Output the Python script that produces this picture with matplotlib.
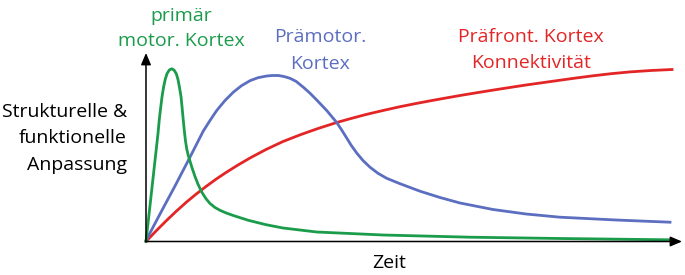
import matplotlib.pyplot as plt

plt.rcParams['font.family'] = ['Open Sans', 'DejaVu Sans']

green_x = [0, 3, 6, 9, 12, 13.3, 14.7, 16, 17.5, 19.2, 21, 23.3, 25.7, 28, 30.3, 32, 33.5,
           35, 36.2, 37.3, 38.4, 39.5, 40.7, 42, 43.3, 46, 49, 52, 55.7, 60, 64, 69, 74, 80,
           87.3, 102.3, 120, 137, 170.7, 237, 324, 414, 524]
green_y = [0, 27, 54, 81, 108, 122, 134, 144.5, 154, 162, 167.8, 171.5, 172.7, 171.5, 167.8,
           162, 154, 145, 133, 121, 110, 100.5, 92.8, 87, 82.7, 73.8, 65, 57.3, 49.5, 42.8,
           38, 34, 31.2, 28.6, 26, 21.2, 16.8, 13.5, 9.5, 6.5, 4.3, 3, 1.7]

blue_x = [0, 14, 29, 43.3, 57.3, 64, 70.7, 79, 87.3, 95.5, 104, 112, 120.7, 126.5, 132.3,
          138, 144, 150, 157.3, 164, 170.7, 180.7, 190.7, 195.5, 200.7, 205, 210.7, 217, 224,
          232, 240.7, 254, 274, 294, 314, 347, 380, 414, 470, 524]
blue_y = [1, 27.5, 55.5, 83, 110.5, 121, 131, 141, 149.3, 155.8, 160.8, 163.8, 165.5, 166,
          166, 165, 163.2, 160.2, 154.3, 148.3, 141.5, 131, 119, 111.8, 103.5, 96.5, 88.5,
          81, 74.3, 68.2, 63.2, 57.8, 50.3, 44, 38.5, 32, 27.5, 24.3, 21.5, 19.3]

red_x = [0, 10, 20, 30, 40, 50, 60, 70, 80, 92, 104, 120, 137, 155, 172, 190.7, 205, 220,
         237, 254, 270, 287, 314, 334, 354, 380, 407, 430, 447, 465, 484, 505, 526]
red_y = [0, 10.5, 20.5, 30, 39, 47.3, 55, 62.3, 69, 76.5, 83.5, 92, 100, 107, 113, 119, 123,
         127, 131, 134.8, 138, 141.2, 146, 149.3, 152.5, 156.5, 160.3, 163.5, 165.7, 167.8,
         169.6, 171, 172]

GREEN = '#1a9c4b'
BLUE = '#5b6ec0'
RED = '#e32526'

W, H = 685, 275
fig = plt.figure(figsize=(W / 100, H / 100), dpi=100)
ax = fig.add_axes([146 / W, (H - 241.5) / H, 536 / W, 188.5 / H])
ax.set_xlim(0, 536)
ax.set_ylim(0, 188.5)
ax.axis('off')

ax.plot(red_x, red_y, color=RED, lw=2.0, clip_on=False, solid_joinstyle='round')
ax.plot(blue_x, blue_y, color=BLUE, lw=2.0, clip_on=False, solid_joinstyle='round')
ax.plot(green_x, green_y, color=GREEN, lw=2.0, clip_on=False, solid_joinstyle='round')

# Achsen mit Pfeilspitzen
arrow = dict(arrowstyle='-|>,head_length=0.7,head_width=0.3', color='black', lw=1.1,
             shrinkA=0, shrinkB=0)
ax.annotate('', xy=(1, 0), xytext=(0, 0), xycoords='axes fraction', arrowprops=arrow)
ax.annotate('', xy=(0, 1), xytext=(0, 0), xycoords='axes fraction', arrowprops=arrow)


def label(px, py, s, color='black', ha='center', size=14):
    fig.text(px / W, 1 - py / H, s, color=color, ha=ha, va='baseline', fontsize=size)


label(181.5, 21, 'primär', GREEN)
label(181.5, 46.5, 'motor. Kortex', GREEN)
label(320.5, 42, 'Prämotor.', BLUE)
label(320, 69, 'Kortex', BLUE)
label(530.5, 41.7, 'Präfront. Kortex', RED)
label(531.5, 68.3, 'Konnektivität', RED)
label(127, 116.7, 'Strukturelle &', ha='right')
label(127, 143.3, 'funktionelle', ha='right')
label(127, 170, 'Anpassung', ha='right')
label(388.8, 268.3, 'Zeit')

fig.savefig('out.png', dpi=100)
